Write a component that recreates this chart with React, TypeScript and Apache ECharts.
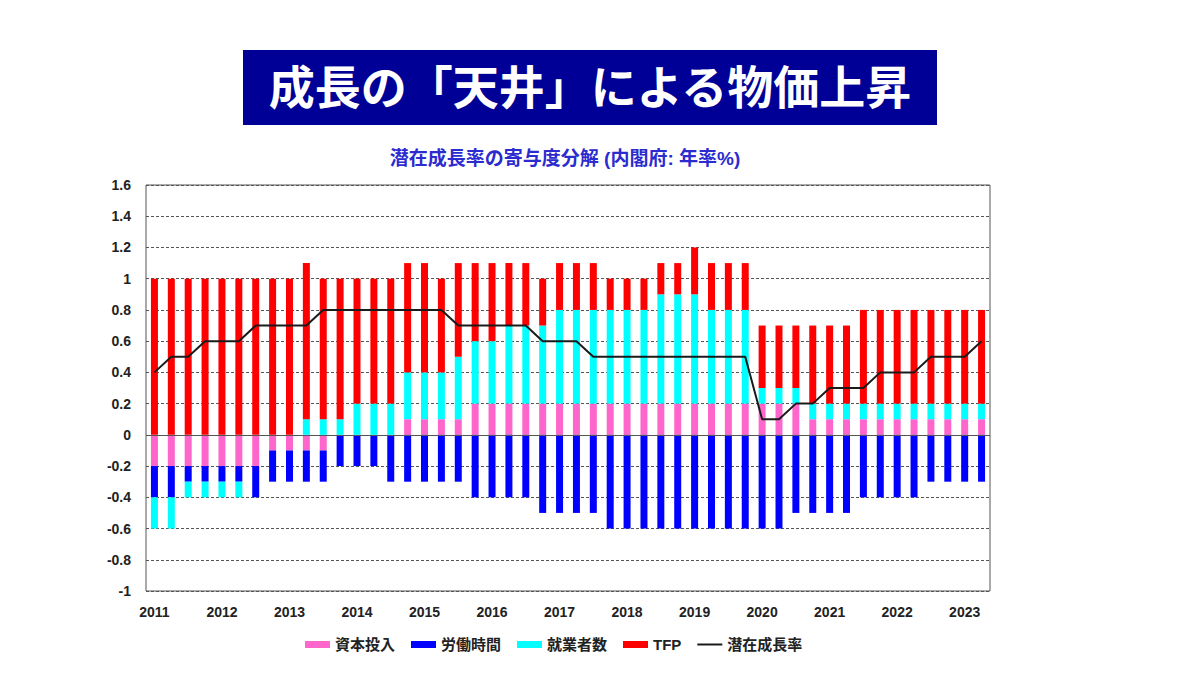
import { useEffect, useRef } from "react";
import * as echarts from "echarts";

// 四半期 (2011Q1〜2023Q2)
const years = [2011, 2012, 2013, 2014, 2015, 2016, 2017, 2018, 2019, 2020, 2021, 2022, 2023];
const quarters = years.flatMap((y) => [1, 2, 3, 4].map((q) => `${y}Q${q}`)).slice(0, 50);

// 寄与度 (年率%)
const capital = [
  -0.2, -0.2, -0.2, -0.2, -0.2, -0.2, -0.2, -0.1, -0.1, -0.1,
  -0.1, 0, 0, 0, 0, 0.1, 0.1, 0.1, 0.1, 0.2,
  0.2, 0.2, 0.2, 0.2, 0.2, 0.2, 0.2, 0.2, 0.2, 0.2,
  0.2, 0.2, 0.2, 0.2, 0.2, 0.2, 0.2, 0.2, 0.2, 0.1,
  0.1, 0.1, 0.1, 0.1, 0.1, 0.1, 0.1, 0.1, 0.1, 0.1,
];
const hours = [
  -0.2, -0.2, -0.1, -0.1, -0.1, -0.1, -0.2, -0.2, -0.2, -0.2,
  -0.2, -0.2, -0.2, -0.2, -0.3, -0.3, -0.3, -0.3, -0.3, -0.4,
  -0.4, -0.4, -0.4, -0.5, -0.5, -0.5, -0.5, -0.6, -0.6, -0.6,
  -0.6, -0.6, -0.6, -0.6, -0.6, -0.6, -0.6, -0.6, -0.5, -0.5,
  -0.5, -0.5, -0.4, -0.4, -0.4, -0.4, -0.3, -0.3, -0.3, -0.3,
];
const employment = [
  -0.2, -0.2, -0.1, -0.1, -0.1, -0.1, 0, 0, 0, 0.1,
  0.1, 0.1, 0.2, 0.2, 0.2, 0.3, 0.3, 0.3, 0.4, 0.4,
  0.4, 0.5, 0.5, 0.5, 0.6, 0.6, 0.6, 0.6, 0.6, 0.6,
  0.7, 0.7, 0.7, 0.6, 0.6, 0.6, 0.1, 0.1, 0.1, 0.1,
  0.1, 0.1, 0.1, 0.1, 0.1, 0.1, 0.1, 0.1, 0.1, 0.1,
];
const tfp = [
  1.0, 1.0, 1.0, 1.0, 1.0, 1.0, 1.0, 1.0, 1.0, 1.0,
  0.9, 0.9, 0.8, 0.8, 0.8, 0.7, 0.7, 0.6, 0.6, 0.5,
  0.5, 0.4, 0.4, 0.3, 0.3, 0.3, 0.3, 0.2, 0.2, 0.2,
  0.2, 0.2, 0.3, 0.3, 0.3, 0.3, 0.4, 0.4, 0.4, 0.5,
  0.5, 0.5, 0.6, 0.6, 0.6, 0.6, 0.6, 0.6, 0.6, 0.6,
];
const potential = [
  0.4, 0.5, 0.5, 0.6, 0.6, 0.6, 0.7, 0.7, 0.7, 0.7,
  0.8, 0.8, 0.8, 0.8, 0.8, 0.8, 0.8, 0.8, 0.7, 0.7,
  0.7, 0.7, 0.7, 0.6, 0.6, 0.6, 0.5, 0.5, 0.5, 0.5,
  0.5, 0.5, 0.5, 0.5, 0.5, 0.5, 0.1, 0.1, 0.2, 0.2,
  0.3, 0.3, 0.3, 0.4, 0.4, 0.4, 0.5, 0.5, 0.5, 0.6,
];

const FONT = '"Liberation Sans", "Noto Sans CJK JP", sans-serif';

function App() {
  const chartRef = useRef<HTMLDivElement>(null);

  useEffect(() => {
    const myChart = echarts.init(chartRef.current, null, { renderer: "svg" });

    const barBase = {
      type: "bar" as const,
      stack: "total",
      barWidth: 7,
    };

    const option: echarts.EChartsCoreOption = {
      animation: false,
      backgroundColor: "#ffffff",
      textStyle: { fontFamily: FONT },
      graphic: [
        {
          type: "rect",
          shape: { x: 243, y: 50, width: 694, height: 75 },
          style: { fill: "#000096" },
        },
        {
          type: "text",
          x: 590,
          y: 88,
          style: {
            text: "成長の「天井」による物価上昇",
            fill: "#ffffff",
            fontSize: 46,
            fontWeight: "bold",
            fontFamily: FONT,
            align: "center",
            verticalAlign: "middle",
          },
        },
        {
          type: "text",
          x: 565,
          y: 158,
          style: {
            text: "潜在成長率の寄与度分解 (内閣府: 年率%)",
            fill: "#2b2bd0",
            fontSize: 19,
            fontWeight: "bold",
            fontFamily: FONT,
            align: "center",
            verticalAlign: "middle",
          },
        },
      ],
      legend: {
        left: 300,
        top: 632,
        itemWidth: 25,
        itemHeight: 7,
        itemGap: 16,
        textStyle: { fontSize: 15, fontWeight: "bold", color: "#222", fontFamily: FONT },
        data: [
          { name: "資本投入", icon: "rect" },
          { name: "労働時間", icon: "rect" },
          { name: "就業者数", icon: "rect" },
          { name: "TFP", icon: "rect" },
          { name: "潜在成長率", icon: "path://M0,0 L25,0 L25,2 L0,2 Z" },
        ],
      },
      grid: {
        left: 146,
        right: 210,
        top: 185,
        bottom: 82,
        show: true,
        borderColor: "#555",
        borderWidth: 1,
      },
      xAxis: {
        type: "category",
        data: quarters,
        axisLine: { show: false },
        axisTick: { show: false },
        axisLabel: {
          interval: 3,
          margin: 14,
          fontSize: 14,
          fontWeight: "bold",
          color: "#222",
          formatter: (v: string) => v.slice(0, 4),
        },
      },
      yAxis: {
        type: "value",
        min: -1,
        max: 1.6,
        interval: 0.2,
        axisLine: { show: false },
        axisTick: { show: false },
        axisLabel: { margin: 15, fontSize: 14, fontWeight: "bold", color: "#222" },
        splitLine: { lineStyle: { color: "#555", type: [3, 2], width: 1 } },
      },
      series: [
        {
          ...barBase,
          name: "資本投入",
          data: capital,
          itemStyle: { color: "#ff66cc" },
          markLine: {
            silent: true,
            symbol: "none",
            label: { show: false },
            lineStyle: { color: "#555", type: "solid", width: 1 },
            data: [{ yAxis: 0 }],
          },
        },
        { ...barBase, name: "労働時間", data: hours, itemStyle: { color: "#0000ff" } },
        { ...barBase, name: "就業者数", data: employment, itemStyle: { color: "#00ffff" } },
        { ...barBase, name: "TFP", data: tfp, itemStyle: { color: "#ff0000" } },
        {
          name: "潜在成長率",
          type: "line",
          data: potential,
          symbol: "none",
          lineStyle: { color: "#1a1a1a", width: 2 },
          itemStyle: { color: "#1a1a1a" },
          z: 5,
        },
      ],
    };

    myChart.setOption(option);

    return () => {
      myChart.dispose();
    };
  }, []);

  return (
    <div
      ref={chartRef}
      style={{ position: "absolute", left: 0, top: 0, width: "1200px", height: "673px" }}
    ></div>
  );
}

export default App;
